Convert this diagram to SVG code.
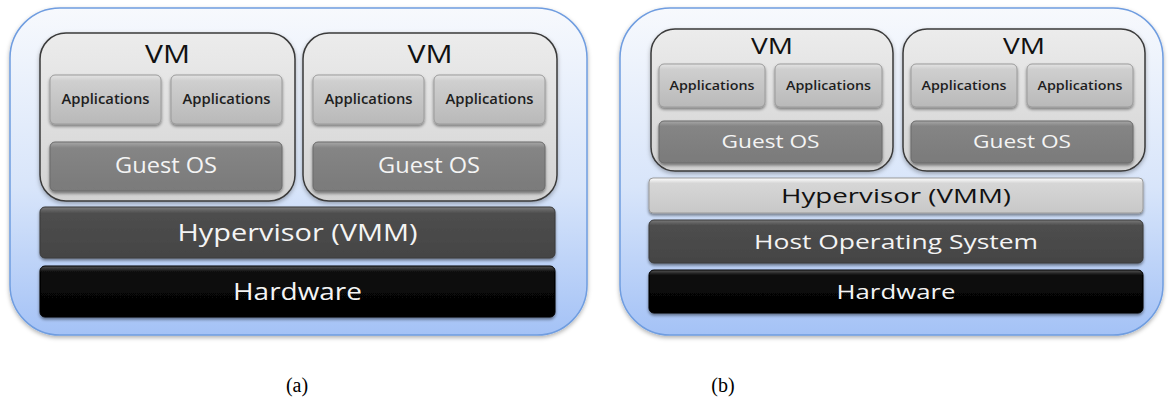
<svg xmlns="http://www.w3.org/2000/svg" width="1171" height="407" viewBox="0 0 1171 407">
<defs>
  <linearGradient id="gOuter" x1="0" y1="0" x2="0" y2="1">
    <stop offset="0" stop-color="#f7f9fd"/>
    <stop offset="0.55" stop-color="#d8e5fa"/>
    <stop offset="1" stop-color="#a4c2f6"/>
  </linearGradient>
  <linearGradient id="gVM" x1="0" y1="0" x2="0" y2="1">
    <stop offset="0" stop-color="#ececec"/>
    <stop offset="1" stop-color="#d2d2d2"/>
  </linearGradient>
  <linearGradient id="gApp" x1="0" y1="0" x2="0" y2="1">
    <stop offset="0" stop-color="#e4e4e4"/>
    <stop offset="0.12" stop-color="#cfcfcf"/>
    <stop offset="1" stop-color="#b9b9b9"/>
  </linearGradient>
  <linearGradient id="gGuest" x1="0" y1="0" x2="0" y2="1">
    <stop offset="0" stop-color="#a8a8a8"/>
    <stop offset="0.12" stop-color="#858585"/>
    <stop offset="1" stop-color="#7a7a7a"/>
  </linearGradient>
  <linearGradient id="gDark" x1="0" y1="0" x2="0" y2="1">
    <stop offset="0" stop-color="#7a7a7a"/>
    <stop offset="0.12" stop-color="#4e4e4e"/>
    <stop offset="1" stop-color="#444444"/>
  </linearGradient>
  <linearGradient id="gBlack" x1="0" y1="0" x2="0" y2="1">
    <stop offset="0" stop-color="#555555"/>
    <stop offset="0.12" stop-color="#0a0a0a"/>
    <stop offset="1" stop-color="#030303"/>
  </linearGradient>
  <linearGradient id="gLight" x1="0" y1="0" x2="0" y2="1">
    <stop offset="0" stop-color="#ffffff"/>
    <stop offset="0.15" stop-color="#d6d6d6"/>
    <stop offset="1" stop-color="#c8c8c8"/>
  </linearGradient>
  <filter id="sh" x="-5%" y="-10%" width="110%" height="130%">
    <feDropShadow dx="0" dy="2" stdDeviation="1.5" flood-color="#000" flood-opacity="0.45"/>
  </filter>
  <filter id="shs" x="-5%" y="-5%" width="110%" height="115%">
    <feDropShadow dx="0" dy="2" stdDeviation="2" flood-color="#000" flood-opacity="0.3"/>
  </filter>
</defs>
<style>
  .outer { fill: url(#gOuter); stroke: #6f9de0; stroke-width: 1.5; filter: url(#shs); }
  .vm { fill: url(#gVM); stroke: #3a3a3a; stroke-width: 1.5; filter: url(#shs); }
  .app { fill: url(#gApp); stroke: #9a9a9a; stroke-width: 1; filter: url(#sh); }
  .guest { fill: url(#gGuest); stroke: #6a6a6a; stroke-width: 1; filter: url(#sh); }
  .dark { fill: url(#gDark); stroke: #3a3a3a; stroke-width: 1; filter: url(#sh); }
  .black { fill: url(#gBlack); stroke: #000; stroke-width: 1; filter: url(#sh); }
  .light { fill: url(#gLight); stroke: #9a9a9a; stroke-width: 1; filter: url(#sh); }
  text { font-family: "Open Sans", "Noto Sans", "DejaVu Sans", sans-serif; text-anchor: middle; }
  .tvm { fill: #111; }
  .tapp { fill: #1e1e1e; font-weight: 600; }
  .tw { fill: #f4f4f4; }
  .tb { fill: #111; }
  .cap { font-family: "Liberation Serif", "Times New Roman", serif; font-size: 20px; fill: #000; }
</style>

<!-- Panel (a) -->
<g id="panel-a">
  <rect class="outer" x="10" y="8" width="577" height="327" rx="50" ry="50"/>
</g>
<g id="a-vm1">
  <rect class="vm" x="40" y="33" width="255" height="168" rx="26" ry="26"/>
  <text class="tvm" x="167.5" y="63" font-size="25" textLength="45" lengthAdjust="spacingAndGlyphs">VM</text>
  <rect class="app" x="50" y="75" width="111" height="49" rx="5"/>
  <text class="tapp" x="105.5" y="104" font-size="13.5" textLength="88" lengthAdjust="spacingAndGlyphs">Applications</text>
  <rect class="app" x="171" y="75" width="111" height="49" rx="5"/>
  <text class="tapp" x="226.5" y="104" font-size="13.5" textLength="88" lengthAdjust="spacingAndGlyphs">Applications</text>
  <rect class="guest" x="50" y="142" width="232" height="49" rx="5"/>
  <text class="tw" x="166" y="173" font-size="21" textLength="102" lengthAdjust="spacingAndGlyphs">Guest OS</text>
</g>
<g id="a-vm2">
  <rect class="vm" x="303" y="33" width="254" height="168" rx="26" ry="26"/>
  <text class="tvm" x="430" y="63" font-size="25" textLength="45" lengthAdjust="spacingAndGlyphs">VM</text>
  <rect class="app" x="313" y="75" width="111" height="49" rx="5"/>
  <text class="tapp" x="368.5" y="104" font-size="13.5" textLength="88" lengthAdjust="spacingAndGlyphs">Applications</text>
  <rect class="app" x="434" y="75" width="111" height="49" rx="5"/>
  <text class="tapp" x="489.5" y="104" font-size="13.5" textLength="88" lengthAdjust="spacingAndGlyphs">Applications</text>
  <rect class="guest" x="313" y="142" width="232" height="49" rx="5"/>
  <text class="tw" x="429" y="173" font-size="21" textLength="102" lengthAdjust="spacingAndGlyphs">Guest OS</text>
</g>
<g id="a-hypervisor">
  <rect class="dark" x="40" y="207" width="515" height="51" rx="5"/>
  <text class="tw" x="297.5" y="241" font-size="23" textLength="240" lengthAdjust="spacingAndGlyphs">Hypervisor (VMM)</text>
</g>
<g id="a-hardware">
  <rect class="black" x="40" y="266" width="515" height="51" rx="5"/>
  <text class="tw" x="297.5" y="300" font-size="23" textLength="129" lengthAdjust="spacingAndGlyphs">Hardware</text>
</g>

<!-- Panel (b) -->
<g id="panel-b">
  <rect class="outer" x="620" y="8" width="543" height="327" rx="50" ry="50"/>
</g>
<g id="b-vm1">
  <rect class="vm" x="651" y="29" width="242" height="142" rx="24" ry="24"/>
  <text class="tvm" x="772" y="54" font-size="21" textLength="42" lengthAdjust="spacingAndGlyphs">VM</text>
  <rect class="app" x="659" y="64" width="106" height="43" rx="5"/>
  <text class="tapp" x="712" y="89.5" font-size="12" textLength="85" lengthAdjust="spacingAndGlyphs">Applications</text>
  <rect class="app" x="775" y="64" width="107" height="43" rx="5"/>
  <text class="tapp" x="828.5" y="89.5" font-size="12" textLength="85" lengthAdjust="spacingAndGlyphs">Applications</text>
  <rect class="guest" x="659" y="121" width="223" height="42" rx="5"/>
  <text class="tw" x="770.5" y="147.5" font-size="18" textLength="98" lengthAdjust="spacingAndGlyphs">Guest OS</text>
</g>
<g id="b-vm2">
  <rect class="vm" x="903" y="29" width="242" height="142" rx="24" ry="24"/>
  <text class="tvm" x="1024" y="54" font-size="21" textLength="42" lengthAdjust="spacingAndGlyphs">VM</text>
  <rect class="app" x="911" y="64" width="106" height="43" rx="5"/>
  <text class="tapp" x="964" y="89.5" font-size="12" textLength="85" lengthAdjust="spacingAndGlyphs">Applications</text>
  <rect class="app" x="1027" y="64" width="106" height="43" rx="5"/>
  <text class="tapp" x="1080" y="89.5" font-size="12" textLength="85" lengthAdjust="spacingAndGlyphs">Applications</text>
  <rect class="guest" x="911" y="121" width="222" height="42" rx="5"/>
  <text class="tw" x="1022" y="147.5" font-size="18" textLength="98" lengthAdjust="spacingAndGlyphs">Guest OS</text>
</g>
<g id="b-hypervisor">
  <rect class="light" x="649" y="178" width="494" height="35" rx="4"/>
  <text class="tb" x="896" y="203" font-size="20" textLength="230" lengthAdjust="spacingAndGlyphs">Hypervisor (VMM)</text>
</g>
<g id="b-hostos">
  <rect class="dark" x="649" y="220" width="494" height="43" rx="5"/>
  <text class="tw" x="896" y="249" font-size="20" textLength="284" lengthAdjust="spacingAndGlyphs">Host Operating System</text>
</g>
<g id="b-hardware">
  <rect class="black" x="649" y="270" width="494" height="43" rx="5"/>
  <text class="tw" x="896" y="299" font-size="20" textLength="119" lengthAdjust="spacingAndGlyphs">Hardware</text>
</g>

<g id="connectors"></g>

<g id="captions">
  <text class="cap" x="297" y="392">(a)</text>
  <text class="cap" x="723" y="392">(b)</text>
</g>
</svg>
